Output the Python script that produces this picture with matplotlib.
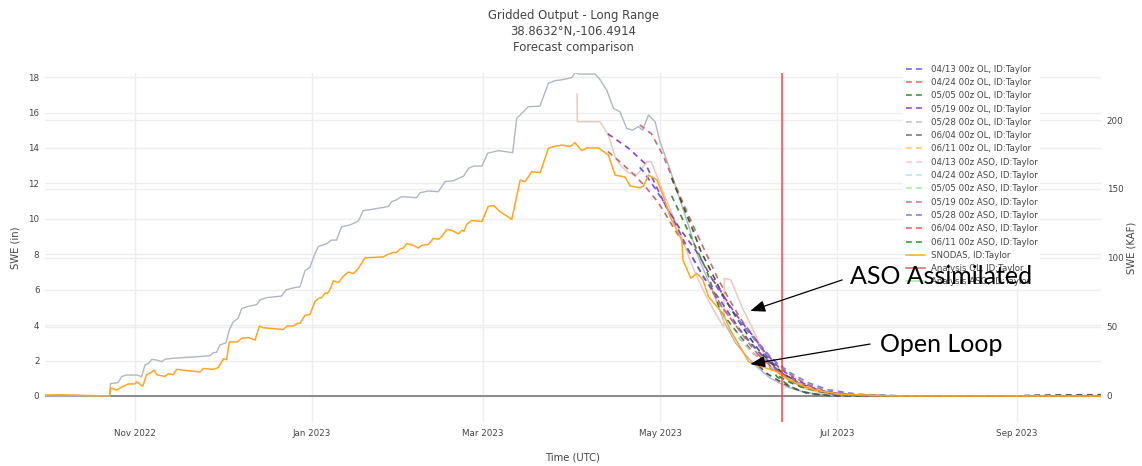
import matplotlib
matplotlib.use("Agg")
import matplotlib.pyplot as plt
import matplotlib.dates as mdates
from matplotlib.lines import Line2D
import pandas as pd

START = pd.Timestamp("2022-10-01")
END_DAY = 364

TITLE = "Gridded Output - Long Range\n38.8632\u00b0N,-106.4914\nForecast comparison"

# ---- analysis / observation series (x = days since 2022-10-01) ----
snodas_day = [0, 5, 16, 22.3, 22.6, 24.7, 26.4, 28.7, 31, 31.6, 33.7, 35, 36.4, 37.6, 38.5, 41.3, 42.5, 44.2,
              45.4, 53.4, 54.6, 58, 59.7, 61.5, 62.6, 63.5, 66.3, 67.8, 70.1, 72.4, 73.9, 75.2, 78.7, 82.1,
              83.5, 85.6, 87.1, 87.9, 89.6, 91.3, 93.1, 94.2, 95.4, 96.5, 97.4, 98.2, 99.4, 101.1, 102.8,
              104.6, 106.3, 108, 110.3, 116.6, 118.3, 120.1, 121.2, 122.4, 123.5, 124.7, 127, 128.7, 129.9,
              132.1, 133.9, 135.6, 136.8, 138.5, 140.2, 142.5, 143.7, 144.4, 145.4, 147.1, 150.6, 152.8,
              154.6, 156.9, 160.9, 163.8, 165.5, 167.8, 170.7, 173.5, 175.8, 178.7, 181, 182.7, 185, 186.8,
              190.8, 194.2, 196.5, 200, 201.7, 205.1, 206.3, 208, 210.9, 213.2, 215.5, 217.2, 219.5, 219.9,
              222.6, 224.7, 226.8, 228.7, 231.6, 233.9, 236.2, 239.6, 242.5, 245.4, 248.8, 252.3, 255.7,
              260.3, 264.9, 274.1, 287.9, 294.8, 364]
snodas_swe = [0.05, 0.07, 0.02, 0.0, 0.45, 0.33, 0.5, 0.68, 0.68, 0.8, 0.55, 1.2, 1.3, 1.45, 1.2, 1.1, 1.25, 1.2,
              1.5, 1.35, 1.55, 1.5, 1.6, 2.1, 2.05, 3.05, 3.05, 3.25, 3.3, 3.15, 3.95, 3.85, 3.8, 3.75,
              3.95, 3.95, 4.1, 4.1, 4.55, 4.6, 5.35, 5.5, 5.55, 5.8, 5.8, 6.0, 6.5, 6.4, 6.75,
              7.0, 6.9, 7.2, 7.8, 7.85, 8.0, 8.1, 8.1, 8.3, 8.35, 8.6, 8.5, 8.35, 8.5,
              8.55, 8.9, 8.85, 9.0, 9.4, 9.35, 9.15, 9.35, 9.3, 9.7, 9.9, 9.85, 10.7,
              10.75, 10.4, 9.97, 12.19, 12.1, 12.66, 12.6, 13.98, 14.1, 14.16, 14.07, 14.3, 13.85, 14.0,
              14.0, 13.6, 12.47, 12.35, 11.85, 11.75, 11.85, 12.47, 12.2, 11.25, 10.12, 9.55, 8.8, 7.67,
              6.64, 6.92, 6.55, 5.6, 5.04, 4.6, 3.72, 2.78, 1.94, 1.75, 1.56, 1.37, 1.0,
              0.62, 0.34, 0.1, 0.02, 0.0, 0.0]

anl_ol_day = [0, 22.3, 22.6, 25.2, 26.4, 27.9, 31.6, 33.3, 34.5, 35.7, 36.8, 38.5, 40.3, 41.3, 44.2, 53.4, 56.9,
              58, 59.1, 60.3, 62.4, 63.5, 64.9, 66.6, 67.8, 69.5, 73, 74.1, 76.4, 81.6, 83, 85.6, 87.9,
              89.6, 91.3, 93.1, 94.2, 97.1, 98.8, 100.5, 102.2, 105.1, 108, 109.7, 111.4, 118.3, 119.5,
              121, 122.9, 128.1, 129.3, 132.1, 135.6, 137.9, 140.8, 144.3, 146, 147.8, 150.6, 152.6,
              156.4, 161.2, 162.6, 164.9, 166.6, 170.6, 173.5, 175.8, 178, 181.6, 182.7, 184, 189.6,
              191, 193.6, 196, 198.2, 200.5, 202.5, 204.5, 206, 208, 210.3, 212, 215.5, 218.9, 222.3,
              224.7, 226, 230, 234, 238, 241, 245, 250, 256, 262, 270, 280, 364]
anl_ol_swe = [0.0, 0.0, 0.7, 0.75, 1.09, 1.18, 1.18, 1.09, 1.75, 1.84, 2.07, 2.03, 1.94, 2.07, 2.13, 2.22, 2.28,
              2.44, 2.46, 2.88, 3.0, 3.72, 4.19, 4.38, 4.94, 5.03, 5.16, 5.42, 5.55, 5.64, 5.98, 6.1, 6.16,
              7.07, 7.26, 8.05, 8.43, 8.6, 8.8, 8.8, 9.55, 9.65, 9.87, 10.46, 10.5, 10.69, 10.97,
              11.06, 11.25, 11.19, 11.47, 11.57, 11.53, 12.1, 12.15, 12.41, 12.85, 12.98, 12.98, 13.7,
              13.85, 13.73, 15.67, 16.04, 16.33, 16.36, 17.65, 17.8, 17.84, 17.97, 18.25, 18.17, 18.17,
              17.93, 17.27, 16.23, 16.04, 15.1, 15.0, 15.2, 15.0, 15.86, 15.48, 14.35, 12.75, 11.06, 9.37,
              8.05, 7.5, 6.0, 4.2, 3.0, 2.4, 1.7, 1.0, 0.5, 0.2, 0.05, 0.0, 0.0]

anl_aso_day = [183.4, 183.5, 191.3, 194.2, 196.5, 198.8, 201.1, 204, 207.5, 209, 210.8, 213.2, 219, 222.3,
               224.7, 228, 231, 233.9, 234.2, 236.4, 240.2, 243.6, 247.7, 252.3, 257, 262, 268, 275, 285, 364]
anl_aso_swe = [17.04, 15.48, 15.48, 14.73, 13.5, 12.94, 12.6, 12.47, 13.22, 13.22, 12.47, 11.44, 9.18, 7.67,
               6.73, 5.6, 4.7, 3.9, 6.64, 6.55, 5.04, 3.91, 2.41, 1.47, 0.8, 0.4, 0.15, 0.05, 0.0, 0.0]

# ---- forecasts (x = days since 2022-10-01) ----
f0413_ol_day = [194, 201, 207, 214, 219, 225, 231, 236, 240, 244, 249, 254, 260, 268, 278, 290, 364]
f0413_ol_swe = [14.8, 14.0, 13.1, 10.7, 9.4, 8.05, 6.3, 5.04, 4.1, 3.35, 2.2, 1.3, 0.72, 0.24, 0.05, 0.0, 0.0]
f0413_aso_day = [194, 199, 203, 207, 211, 213, 217, 221, 225, 229, 233, 238, 243, 248, 254, 260, 268, 280, 295, 364]
f0413_aso_swe = [13.8, 13.1, 12.5, 11.8, 11.0, 10.5, 9.4, 8.4, 7.3, 6.2, 5.1, 4.0, 3.0, 2.1, 1.3, 0.7, 0.25, 0.05, 0.0, 0.0]

f0424_ol_day = [205, 209, 211, 213, 217, 221, 224, 228, 232, 236, 240, 245, 250, 256, 262, 270, 282, 295, 364]
f0424_ol_swe = [15.3, 14.8, 14.2, 13.6, 12.0, 10.5, 9.4, 8.0, 6.6, 5.4, 4.3, 3.2, 2.2, 1.3, 0.7, 0.25, 0.05, 0.0, 0.0]
f0424_aso_day = [205, 206.3, 210.3, 213.2, 216.1, 219.5, 222.4, 227, 232.7, 239.6, 245.4, 252.3, 260.3, 270, 282, 364]
f0424_aso_swe = [12.9, 12.66, 11.72, 10.97, 10.12, 8.99, 8.05, 6.7, 5.42, 3.72, 2.6, 1.47, 0.53, 0.15, 0.0, 0.0]

f0505_ol_day = [216, 219.5, 223, 226, 230, 234, 238, 242, 246, 250, 255, 260, 267, 275, 290, 364]
f0505_ol_swe = [12.3, 10.9, 9.5, 8.2, 6.9, 5.6, 4.5, 3.5, 2.6, 1.9, 1.2, 0.7, 0.3, 0.08, 0.0, 0.0]
f0505_aso_day = [216, 220, 224, 228, 232.7, 237, 241, 244.1, 248.8, 252.3, 256.9, 262.6, 270, 282, 364]
f0505_aso_swe = [11.3, 9.9, 8.5, 7.1, 4.85, 3.9, 3.1, 2.41, 1.84, 1.09, 0.53, 0.15, 0.03, 0.0, 0.0]

f0519_ol_day = [230, 233, 236, 240, 244, 248, 253, 258, 264, 270, 280, 292, 364]
f0519_ol_swe = [6.6, 5.9, 5.1, 4.2, 3.4, 2.5, 1.6, 1.0, 0.5, 0.2, 0.05, 0.0, 0.0]
f0519_aso_day = [230, 234, 238, 242, 246, 251, 256, 262, 270, 282, 295, 364]
f0519_aso_swe = [5.9, 4.9, 4.0, 3.1, 2.3, 1.5, 0.95, 0.5, 0.18, 0.04, 0.0, 0.0]

f0528_ol_day = [239, 243, 247, 251, 256, 262, 270, 280, 292, 364]
f0528_ol_swe = [3.3, 2.6, 2.0, 1.5, 1.0, 0.55, 0.2, 0.05, 0.0, 0.0]
f0528_aso_day = [239, 243, 247, 252, 257, 263, 270, 280, 292, 300, 364]
f0528_aso_swe = [4.3, 3.5, 2.7, 1.9, 1.3, 0.75, 0.35, 0.1, 0.02, 0.0, 0.0]

f0604_ol_day = [246, 249, 253, 257, 261, 266, 272, 335, 340, 350, 364]
f0604_ol_swe = [1.7, 1.25, 0.85, 0.5, 0.25, 0.08, 0.0, 0.0, 0.04, 0.06, 0.07]
f0604_aso_day = [246, 250, 254, 258, 263, 268, 275, 285, 292, 364]
f0604_aso_swe = [2.3, 1.7, 1.2, 0.8, 0.45, 0.22, 0.07, 0.01, 0.0, 0.0]

f0611_ol_day = [253, 257, 261, 266, 271, 278, 288, 364]
f0611_ol_swe = [1.3, 0.9, 0.6, 0.33, 0.15, 0.05, 0.0, 0.0]
f0611_aso_day = [253, 257, 261, 266, 272, 280, 290, 364]
f0611_aso_swe = [1.1, 0.75, 0.5, 0.28, 0.12, 0.03, 0.0, 0.0]

current_date = "2023-06-12"
KAF_PER_IN = 12.84

legend_labels = ["04/13 00z OL, ID:Taylor", "04/24 00z OL, ID:Taylor", "05/05 00z OL, ID:Taylor",
                 "05/19 00z OL, ID:Taylor", "05/28 00z OL, ID:Taylor", "06/04 00z OL, ID:Taylor",
                 "06/11 00z OL, ID:Taylor", "04/13 00z ASO, ID:Taylor", "04/24 00z ASO, ID:Taylor",
                 "05/05 00z ASO, ID:Taylor", "05/19 00z ASO, ID:Taylor", "05/28 00z ASO, ID:Taylor",
                 "06/04 00z ASO, ID:Taylor", "06/11 00z ASO, ID:Taylor", "SNODAS, ID:Taylor",
                 "Analysis OL, ID:Taylor", "Analysis ASO, ID:Taylor"]
legend_colors = ["#6b6bf5", "#f56b6b", "#3a9a3a", "#a64ac9", "#c4c4c4", "#7a7a7a", "#ffc870",
                 "#ffc8d2", "#bfe3f0", "#a8eea8", "#d08080", "#8080ff", "#ff6060", "#3a9a3a",
                 "#ffb030", "#e07070", "#a8eea8"]


def to_dates(days):
    return START + pd.to_timedelta(days, unit="D")


W, H = 1142, 466
plt.rcParams["font.family"] = ["DejaVu Sans"]
fig = plt.figure(figsize=(W / 100, H / 100), dpi=100)
L, R, B, T = 45, 1101, 422, 73
ax2 = fig.add_axes([L / W, 1 - B / H, (R - L) / W, (B - T) / H])
ax = fig.add_axes([L / W, 1 - B / H, (R - L) / W, (B - T) / H], sharex=ax2)
ax2.set_zorder(1)
ax.set_zorder(2)
ax.patch.set_visible(False)

grid_c = "#eeeeee"
txt_c = "#444444"

ylo, yhi = -1.47, 18.23
ax.set_ylim(ylo, yhi)
ax2.set_ylim(ylo * KAF_PER_IN, yhi * KAF_PER_IN)
ax.set_xlim(to_dates([0])[0], to_dates([END_DAY])[0])

ax.set_yticks(range(0, 19, 2))
ax2.set_yticks([0, 50, 100, 150, 200])
ax2.yaxis.tick_right()
ax2.tick_params(axis="y", length=0, labelsize=6.3, labelcolor=txt_c, pad=4)
ax2.tick_params(axis="x", length=0, labelbottom=False)
ax2.grid(axis="y", color=grid_c, lw=1)
ax.grid(axis="y", color=grid_c, lw=1)
ax.grid(axis="x", color=grid_c, lw=1)
ax.set_axisbelow(True)
for a in (ax, ax2):
    for s in a.spines.values():
        s.set_visible(False)
ax.xaxis.set_major_locator(mdates.MonthLocator(bymonth=[11, 1, 3, 5, 7, 9]))
ax.xaxis.set_major_formatter(mdates.DateFormatter("%b %Y"))
ax.tick_params(axis="both", length=0, labelsize=6.3, labelcolor=txt_c)
ax.tick_params(axis="x", pad=5)
ax.tick_params(axis="y", pad=4)

ax.axhline(0, color="#8a8a8a", lw=1.4, zorder=1.5)

# analyses
ax.plot(to_dates(anl_ol_day), anl_ol_swe, color="#b0b7c2", lw=1.0, zorder=3)
ax.plot(to_dates(anl_aso_day), anl_aso_swe, color="#e8cbc0", lw=1.1, zorder=3)
ax.plot(to_dates(snodas_day), snodas_swe, color="#ffa620", lw=1.1, zorder=4)

dash = (0, (3.5, 2.8))
forecasts = [
    (f0413_aso_day, f0413_aso_swe, "#c86a6a"),
    (f0413_ol_day, f0413_ol_swe, "#8a44cc"),
    (f0424_ol_day, f0424_ol_swe, "#d06a6a"),
    (f0424_aso_day, f0424_aso_swe, "#5a5af0"),
    (f0505_ol_day, f0505_ol_swe, "#2e5e2e"),
    (f0505_aso_day, f0505_aso_swe, "#3f8f3f"),
    (f0519_ol_day, f0519_ol_swe, "#9b3fc7"),
    (f0519_aso_day, f0519_aso_swe, "#cd6b6b"),
    (f0528_ol_day, f0528_ol_swe, "#bbbbbb"),
    (f0528_aso_day, f0528_aso_swe, "#7b7bff"),
    (f0604_ol_day, f0604_ol_swe, "#555555"),
    (f0604_aso_day, f0604_aso_swe, "#ff4d4d"),
    (f0611_ol_day, f0611_ol_swe, "#ffc266"),
    (f0611_aso_day, f0611_aso_swe, "#2e8b2e"),
]
for d, v, c in forecasts:
    ax.plot(to_dates(d), v, color=c, lw=1.2, linestyle=dash, zorder=3.5)

ax.axvline(pd.Timestamp(current_date), color="#ff4040", lw=1.1, zorder=5)

# titles
fig.text((L + R) / 2 / W, 1 - 9 / H, TITLE, ha="center", va="top", fontsize=8.4,
         color=txt_c, linespacing=1.3)
fig.text((L + R) / 2 / W, 1 - 457 / H, "Time (UTC)", ha="center", va="center", fontsize=7.2, color=txt_c)
fig.text(15 / W, 1 - 248 / H, "SWE (in)", ha="center", va="center", rotation=90, fontsize=7.2, color=txt_c)
fig.text(1132 / W, 1 - 248 / H, "SWE (KAF)", ha="center", va="center", rotation=90, fontsize=7.2,
         color=txt_c)

# legend
handles = []
for i, (lab, c) in enumerate(zip(legend_labels, legend_colors)):
    ls = "-" if i >= 14 else (0, (3.5, 2.5))
    handles.append(Line2D([0], [0], color=c, lw=1.2, linestyle=ls))
leg = ax.legend(handles, legend_labels, loc="upper left", bbox_to_anchor=(903 / W, 1 - 62 / H),
                bbox_transform=fig.transFigure, fontsize=6.2, frameon=True, framealpha=1,
                edgecolor="none", facecolor="white", labelspacing=0.5, handlelength=2.3,
                handletextpad=0.6, borderpad=0.3, borderaxespad=0, labelcolor=txt_c)
leg.set_zorder(6)

# annotations
ann_font = ["Lato", "DejaVu Sans"]
ax.annotate("", xy=(to_dates([243.1])[0], 4.8), xytext=(to_dates([274.8])[0], 6.55),
            arrowprops=dict(arrowstyle="-|>,head_length=0.9,head_width=0.35", color="black", lw=0.9,
                            shrinkA=0, shrinkB=0), zorder=8)
ax.annotate("", xy=(to_dates([243.1])[0], 1.8), xytext=(to_dates([284.4])[0], 2.93),
            arrowprops=dict(arrowstyle="-|>,head_length=0.9,head_width=0.35", color="black", lw=0.9,
                            shrinkA=0, shrinkB=0), zorder=8)
ax.text(to_dates([277.6])[0], 6.77, "ASO Assimilated", fontsize=18, family=ann_font,
        ha="left", va="center", color="black", zorder=9)
ax.text(to_dates([287.9])[0], 2.88, "Open Loop", fontsize=18, family=ann_font,
        ha="left", va="center", color="black", zorder=9)

fig.savefig("out.png", dpi=100)
